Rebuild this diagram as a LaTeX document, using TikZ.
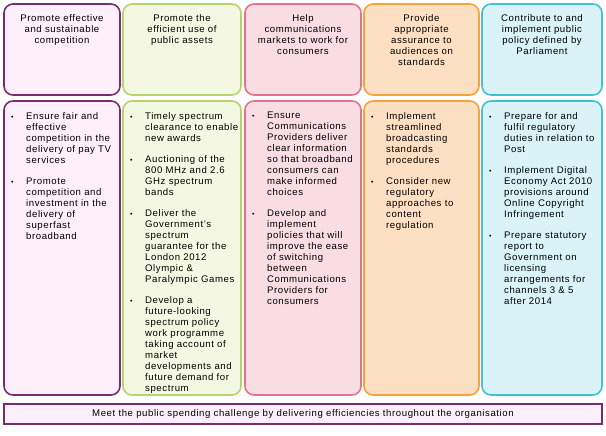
\documentclass[tikz,border=0pt]{standalone}
\usepackage{fontspec}
\setmainfont{Liberation Sans}[LetterSpace=6]
\definecolor{c1b}{HTML}{7B2C6E}\definecolor{c1f}{HTML}{FDF0FB}
\definecolor{c2b}{HTML}{B5D56A}\definecolor{c2f}{HTML}{F4F8E2}
\definecolor{c3b}{HTML}{E5728C}\definecolor{c3f}{HTML}{FADDE2}
\definecolor{c4b}{HTML}{F6A33A}\definecolor{c4f}{HTML}{FDE0C3}
\definecolor{c5b}{HTML}{3EC3D3}\definecolor{c5f}{HTML}{D9F3F7}
\newcommand{\itm}[1]{\par\hangindent=15pt\hangafter=1\noindent\makebox[15pt][l]{\scriptsize\textbullet}#1\par\vspace{10pt}}
\tikzset{boxx/.style={rounded corners=9pt,line width=1.6pt},
 ttl/.style={anchor=north,align=center,font=\fontsize{9.6}{11}\selectfont,text width=112pt,inner sep=0pt},
 body/.style={anchor=north west,inner sep=0pt,font=\fontsize{9.6}{11}\selectfont}}
\newcommand{\col}[8]{% name x1 x2 border fill title width body
 \draw[boxx,draw=#4,fill=#5] (#2pt,-4pt) rectangle (#3pt,-95pt);
 \draw[boxx,draw=#4,fill=#5] (#2pt,-101pt) rectangle (#3pt,-395pt);
 \node[ttl] (t#1) at ({(#2+#3)/2*1pt},-14pt) {#6};
 \node[body] (b#1) at ({(#2+7)*1pt},-112pt) {\parbox[t]{#7pt}{\raggedright #8}};}
\begin{document}
\begin{tikzpicture}
\useasboundingbox (0,0) rectangle (606pt,-436pt);
\col{a}{4}{120}{c1b}{c1f}{Promote effective\\and sustainable\\competition}{104}{%
\itm{Ensure fair and effective competition in the delivery of pay TV services}
\itm{Promote competition and investment in the delivery of superfast broadband}}
\col{b}{123}{241}{c2b}{c2f}{Promote the\\efficient use of\\public assets}{108}{%
\itm{Timely spectrum clearance to enable new awards}
\itm{Auctioning of the 800 MHz and 2.6 GHz spectrum bands}
\itm{Deliver the Government's spectrum guarantee for the London 2012 Olympic \& Paralympic Games}
\itm{Develop a future-looking spectrum policy work programme taking account of market developments and future demand for spectrum}}
\col{c}{245}{361}{c3b}{c3f}{Help\\communications\\markets to work for\\consumers}{102}{%
\itm{Ensure Communications Providers deliver clear information so that broadband consumers can make informed choices}
\itm{Develop and implement policies that will improve the ease of switching between Communications Providers for consumers}}
\col{d}{364}{479}{c4b}{c4f}{Provide\\appropriate\\assurance to\\audiences on\\standards}{100}{%
\itm{Implement streamlined broadcasting standards procedures}
\itm{Consider new regulatory approaches to content regulation}}
\col{e}{482}{602}{c5b}{c5f}{Contribute to and\\implement public\\policy defined by\\Parliament}{106}{%
\itm{Prepare for and fulfil regulatory duties in relation to Post}
\itm{Implement Digital Economy Act 2010 provisions around Online Copyright Infringement}
\itm{Prepare statutory report to Government on licensing arrangements for channels 3 \& 5 after 2014}}
\draw[line width=1.6pt,draw=c1b,fill=c1f] (4pt,-404pt) rectangle (602pt,-424pt);
\node[font=\fontsize{9.6}{11}\selectfont] (bar) at (303pt,-414pt) {Meet the public spending challenge by delivering efficiencies throughout the organisation};
\end{tikzpicture}
\end{document}
